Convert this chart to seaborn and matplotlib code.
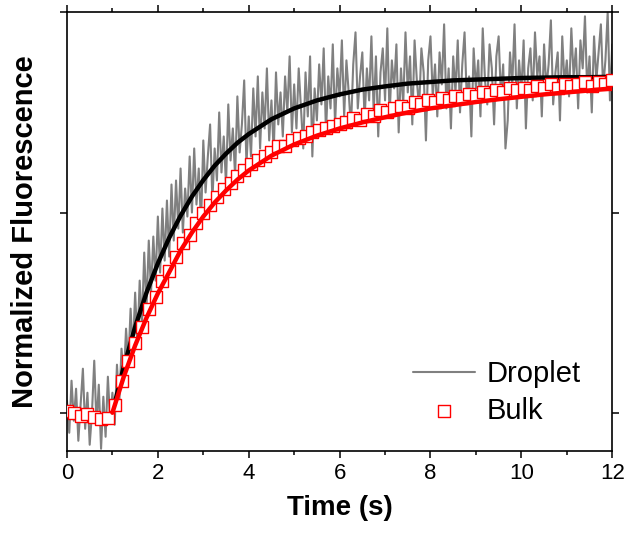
import numpy as np
import pandas as pd
import seaborn as sns
import matplotlib.pyplot as plt

# Droplet trace (raw, 0.05 s sampling)
droplet_t = np.linspace(0, 12, 241)
droplet = [
    0.03, -0.05, 0.08, -0.02, 0.06, -0.07, 0.02, 0.11, -0.04, 0.05,
    -0.08, 0.00, 0.13, -0.03, 0.07, -0.09, 0.04, -0.06, 0.09, -0.02,
    0.05, -0.03, 0.12, 0.02, 0.16,
    0.08, 0.21, 0.12, 0.26, 0.15,
    0.30, 0.17, 0.33, 0.22, 0.40,
    0.26, 0.43, 0.30, 0.44, 0.33,
    0.49, 0.35, 0.51, 0.38, 0.53,
    0.39, 0.57, 0.43, 0.58, 0.46,
    0.61, 0.45, 0.56, 0.49, 0.64,
    0.50, 0.66, 0.52, 0.61, 0.47,
    0.68, 0.55, 0.64, 0.72, 0.53,
    0.66, 0.58, 0.75, 0.60, 0.69,
    0.57, 0.77, 0.63, 0.71, 0.59,
    0.79, 0.65, 0.72, 0.83, 0.62,
    0.74, 0.64, 0.81, 0.69, 0.84,
    0.66, 0.80, 0.71, 0.86, 0.68,
    0.78, 0.65, 0.85, 0.72, 0.80,
    0.69, 0.84, 0.75, 0.89, 0.70,
    0.82, 0.71, 0.86, 0.76, 0.66,
    0.85, 0.74, 0.89, 0.64, 0.81,
    0.73, 0.87, 0.77, 0.91, 0.70,
    0.84, 0.76, 0.92, 0.72, 0.86,
    0.79, 0.93, 0.74, 0.88, 0.80,
    0.71, 0.87, 0.95, 0.76, 0.84,
    0.90, 0.73, 0.86, 0.78, 0.94,
    0.75, 0.89, 0.69, 0.85, 0.91,
    0.78, 0.96, 0.74, 0.88, 0.81,
    0.92, 0.70, 0.86, 0.77, 0.95,
    0.80, 0.89, 0.72, 0.93, 0.83,
    0.76, 0.91, 0.85, 0.68, 0.88,
    0.94, 0.79, 0.87, 0.74, 0.90,
    0.82, 0.97, 0.76, 0.86, 0.71,
    0.89, 0.80, 0.93, 0.75, 0.87,
    0.95, 0.78, 0.84, 0.69, 0.91,
    0.81, 0.88, 0.74, 0.96, 0.83,
    0.77, 0.92, 0.86, 0.72, 0.89,
    0.94, 0.79, 0.87, 0.66, 0.73,
    0.90, 0.82, 0.97, 0.76, 0.88,
    0.80, 0.93, 0.71, 0.86, 0.91,
    0.78, 0.95, 0.84, 0.89, 0.74,
    0.92, 0.81, 0.87, 0.98, 0.77,
    0.85, 0.90, 0.73, 0.94, 0.82,
    0.88, 0.79, 0.96, 0.84, 0.91,
    0.76, 0.93, 0.86, 0.99, 0.80,
    0.89, 0.75, 0.94, 0.83, 0.90,
    0.97, 0.81, 0.88, 1.00, 0.78,
    0.92,
]

# Bulk measurement (0.15 s sampling)
bulk_t = np.linspace(0, 12, 81)
bulk = [
    0.005, 0.000, -0.008, -0.004, -0.010, -0.015, -0.012, 0.020, 0.080, 0.130,
    0.175, 0.215, 0.260, 0.290, 0.330, 0.355, 0.390, 0.425, 0.445, 0.475,
    0.500, 0.520, 0.540, 0.560, 0.575, 0.590, 0.605, 0.620, 0.630, 0.640,
    0.650, 0.665, 0.665, 0.680, 0.685, 0.690, 0.700, 0.705, 0.710, 0.715,
    0.720, 0.725, 0.735, 0.730, 0.745, 0.740, 0.755, 0.750, 0.760, 0.765,
    0.760, 0.775, 0.770, 0.780, 0.775, 0.785, 0.780, 0.790, 0.785, 0.795,
    0.790, 0.800, 0.795, 0.805, 0.800, 0.810, 0.805, 0.810, 0.805, 0.815,
    0.810, 0.820, 0.810, 0.820, 0.815, 0.820, 0.825, 0.815, 0.825, 0.820,
    0.830,
]

# Fitted curves
fit_t = [1, 1.25, 1.5, 1.75, 2, 2.25, 2.5, 2.75, 3, 3.25, 3.5, 3.75, 4, 4.5,
         5, 5.5, 6, 6.5, 7, 7.5, 8, 8.5, 9, 9.5, 10, 10.5, 11, 11.5, 12]
droplet_fit = [0.0, 0.115, 0.214, 0.300, 0.373, 0.437, 0.492, 0.540, 0.581, 0.617,
               0.647, 0.674, 0.696, 0.733, 0.760, 0.780, 0.795, 0.807, 0.815, 0.822,
               0.826, 0.830, 0.832, 0.834, 0.836, 0.837, 0.838, 0.838, 0.839]
bulk_fit = [0.0, 0.090, 0.168, 0.237, 0.298, 0.351, 0.405, 0.450, 0.490, 0.525,
            0.555, 0.582, 0.605, 0.642, 0.670, 0.692, 0.710, 0.725, 0.738, 0.750,
            0.760, 0.768, 0.776, 0.783, 0.789, 0.795, 0.800, 0.805, 0.810]

droplet_df = pd.DataFrame({"Time": droplet_t, "Signal": droplet})
bulk_df = pd.DataFrame({"Time": bulk_t, "Signal": bulk})
fit_df = pd.DataFrame({"Time": fit_t, "Droplet": droplet_fit, "Bulk": bulk_fit})

sns.set_style("ticks")
plt.rcParams["font.family"] = ["Liberation Sans", "DejaVu Sans"]
plt.rcParams["text.color"] = "black"
plt.rcParams["axes.labelcolor"] = "black"
plt.rcParams["xtick.color"] = "black"
plt.rcParams["ytick.color"] = "black"
plt.rcParams["axes.edgecolor"] = "black"

fig, ax = plt.subplots(figsize=(6.26, 5.36), dpi=100)
fig.subplots_adjust(left=0.107, right=0.978, bottom=0.159, top=0.977)

sns.lineplot(data=droplet_df, x="Time", y="Signal", color="#808080", lw=1.5,
             label="Droplet", ax=ax, zorder=1)
sns.lineplot(data=fit_df, x="Time", y="Droplet", color="black", lw=3.2, ax=ax, zorder=2)
sns.scatterplot(data=bulk_df, x="Time", y="Signal", marker="s", s=70,
                facecolor="white", edgecolor="red", linewidth=1.0,
                label="Bulk", ax=ax, zorder=3)
sns.lineplot(data=fit_df, x="Time", y="Bulk", color="red", lw=3.2, ax=ax, zorder=4)

ax.set_xlim(0, 12)
ax.set_ylim(-0.095, 1.0)
ax.set_xticks(range(0, 13, 2))
ax.set_xticks(range(1, 12, 2), minor=True)
ax.set_yticks([0, 0.5, 1.0])
ax.set_yticklabels([])
ax.tick_params(axis="both", which="both", direction="out", top=True, right=True,
               width=1.1, labelsize=16)
ax.tick_params(which="major", length=5)
ax.tick_params(which="minor", length=3)
for sp in ax.spines.values():
    sp.set_linewidth(1.2)

ax.set_xlabel("Time (s)", fontsize=20, fontweight="bold", labelpad=8)
ax.set_ylabel("Normalized Fluorescence", fontsize=21, fontweight="bold", labelpad=12)

handles, labels = ax.get_legend_handles_labels()
ax.legend(handles, labels, loc="lower right", frameon=False, fontsize=21,
          handlelength=2.1, handletextpad=0.4, labelspacing=0.3,
          bbox_to_anchor=(0.99, 0.0))

plt.savefig("out.png", dpi=100)
